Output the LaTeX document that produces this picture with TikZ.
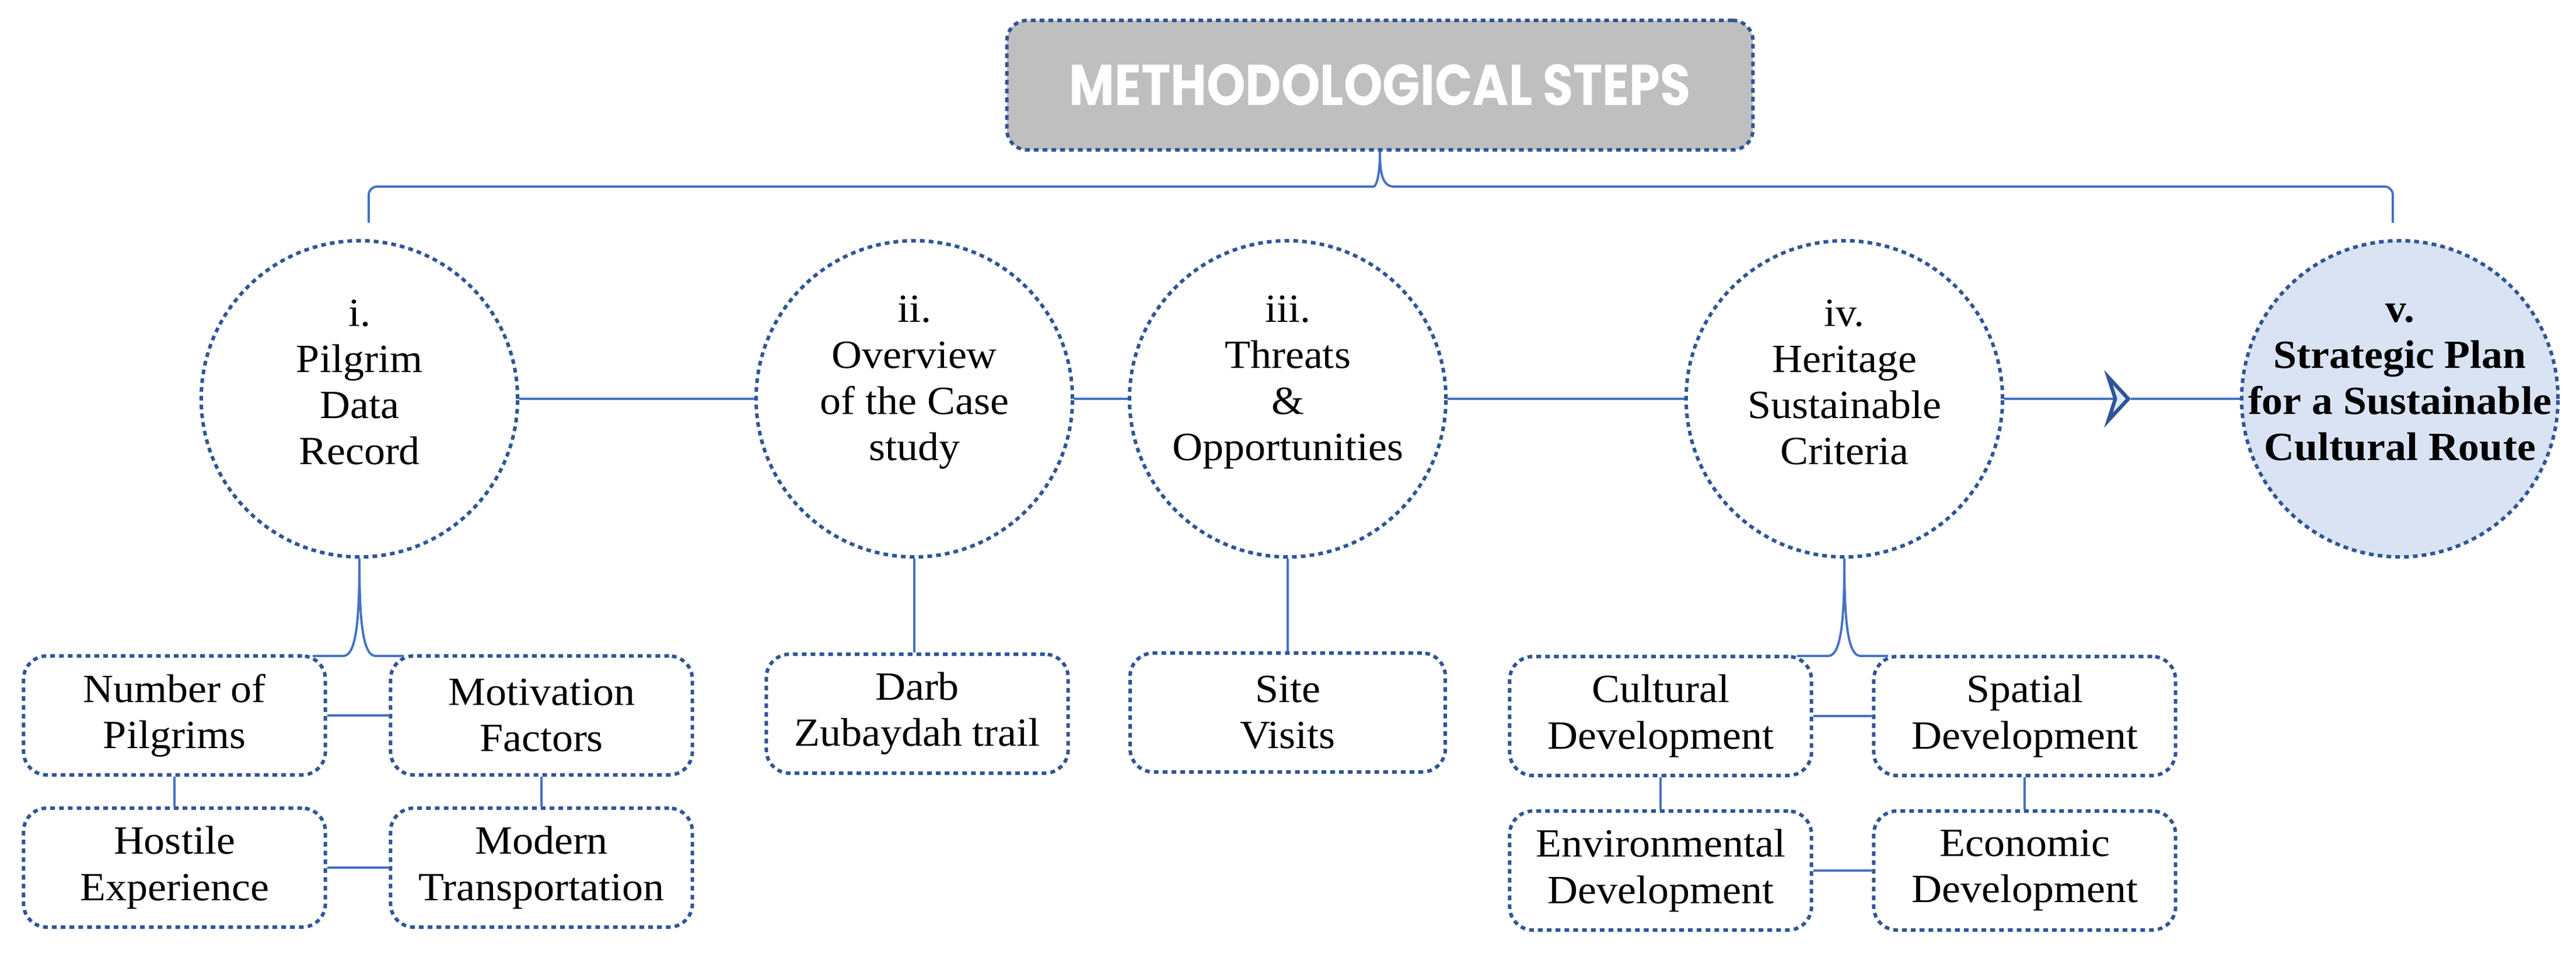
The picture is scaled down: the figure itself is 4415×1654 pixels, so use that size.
\documentclass[tikz,border=0pt]{standalone}
\usepackage{fontspec}
\usepackage{graphicx}
\setmainfont{Liberation Serif}[FakeStretch=1.05]
\newfontfamily\titlefont{Poppins}
\usetikzlibrary{arrows.meta}

\definecolor{linkblue}{HTML}{4472C4}
\definecolor{dotblue}{HTML}{2F5597}
\definecolor{titlegray}{HTML}{BFBFBF}
\definecolor{stepfill}{HTML}{DAE3F3}
\definecolor{chevfill}{HTML}{DEEBF7}

\begin{document}
\begin{tikzpicture}[x=0.01cm,y=-0.01cm,
  link/.style={draw=linkblue,line width=1.1pt},
  dotline/.style={draw=dotblue,line width=1.7pt,dash pattern=on 2.3pt off 2.0pt},
  stepcircle/.style={dotline,circle,minimum size=5.42cm,inner sep=0pt},
  steptext/.style={align=center,font=\fontsize{19.5}{22.5}\selectfont},
  subbox/.style={dotline,rounded corners=0.4cm,minimum width=5.17cm,minimum height=2.04cm,
    align=center,font=\fontsize{19.5}{22.5}\selectfont}]

\useasboundingbox (0,0) rectangle (4415,1654);

% Titel
\node[dotline,fill=titlegray,rounded corners=0.35cm,minimum width=12.78cm,minimum height=2.22cm] (title) at (2365,146)
  {\titlefont\bfseries\fontsize{28}{30}\selectfont\color{white}\scalebox{0.86}[1]{METHODOLOGICAL STEPS}};

% Kreise
\node[stepcircle] (c1) at (616,684) {};
\node[steptext] (t1) at ([yshift=8pt]c1.center) {i.\\Pilgrim\\Data\\Record};
\node[stepcircle] (c2) at (1567,684) {};
\node[steptext] (t2) at ([yshift=8pt]c2.center) {ii.\\Overview\\of the Case\\study};
\node[stepcircle] (c3) at (2207,684) {};
\node[steptext] (t3) at ([yshift=8pt]c3.center) {iii.\\Threats\\\&\\Opportunities};
\node[stepcircle] (c4) at (3161,684) {};
\node[steptext] (t4) at ([yshift=8pt]c4.center) {iv.\\Heritage\\Sustainable\\Criteria};
\node[stepcircle,fill=stepfill] (c5) at (4113,684) {};
\node[steptext,font=\fontsize{19.5}{22.5}\selectfont\bfseries] (t5) at ([yshift=8pt]c5.center)
  {v.\\Strategic Plan\\for a Sustainable\\Cultural Route};

% Klammer oben
\coordinate (bl) at (632,382);
\coordinate (br) at (4101,382);
\draw[link] (bl) [rounded corners=4pt] |- (2340,320) [sharp corners]
  .. controls +(18,0) and +(0,45) .. (title.south)
  .. controls +(0,45) and +(-18,0) .. (2390,320) [rounded corners=4pt] -| (br);

% Hauptlinie
\draw[link] (c1.east) -- (c2.west);
\draw[link] (c2.east) -- (c3.west);
\draw[link] (c3.east) -- (c4.west);
\coordinate (tip) at (3652,684);
\draw[link,-{Stealth[length=13pt,width=28pt,inset=4.5pt,color=dotblue,fill=chevfill,line width=1.8pt]}] (c4.east) -- (tip);
\draw[link] (tip) -- (c5.west);

% Unterpunkte i.
\node[subbox] (pilg) at (299,1227) {Number of\\Pilgrims};
\node[subbox] (moti) at (928,1227) {Motivation\\Factors};
\node[subbox] (host) at (299,1488) {Hostile\\Experience};
\node[subbox] (trans) at (928,1488) {Modern\\Transportation};
\coordinate (b1l) at (536,1125);
\coordinate (b1r) at (692,1125);
\draw[link] (b1l) -- (588,1125) .. controls +(22,0) and +(0,110) .. (c1.south)
  .. controls +(0,110) and +(-22,0) .. (644,1125) -- (b1r);
\draw[link] (pilg) -- (moti);
\draw[link] (host) -- (trans);
\draw[link] (pilg) -- (host);
\draw[link] (moti) -- (trans);

% Unterpunkte ii. und iii.
\node[subbox] (darb) at (1572,1224) {Darb\\Zubaydah trail};
\node[subbox,minimum width=5.40cm] (site) at (2207,1222) {Site\\Visits};
\draw[link] (c2.south) -- (darb.north -| c2.south);
\draw[link] (c3.south) -- (site.north);

% Unterpunkte iv.
\node[subbox] (cult) at (2846,1228) {Cultural\\Development};
\node[subbox] (spat) at (3470,1228) {Spatial\\Development};
\node[subbox] (envi) at (2846,1493) {Environmental\\Development};
\node[subbox] (econ) at (3470,1493) {Economic\\Development};
\coordinate (b4l) at (3080,1125);
\coordinate (b4r) at (3236,1125);
\draw[link] (b4l) -- (3133,1125) .. controls +(22,0) and +(0,110) .. (c4.south)
  .. controls +(0,110) and +(-22,0) .. (3189,1125) -- (b4r);
\draw[link] (cult) -- (spat);
\draw[link] (envi) -- (econ);
\draw[link] (cult) -- (envi);
\draw[link] (spat) -- (econ);

\end{tikzpicture}
\end{document}
